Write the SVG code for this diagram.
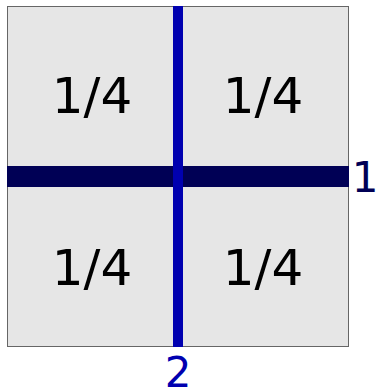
<svg xmlns="http://www.w3.org/2000/svg" width="377" height="391" viewBox="0 0 377 391">
<style>
.q{font-family:"DejaVu Sans",sans-serif;font-size:50px;fill:#000;text-anchor:middle}
.lbl{font-family:"DejaVu Sans",sans-serif;font-size:42px;text-anchor:middle}
</style>
<rect width="377" height="391" fill="#fff"/>
<g id="square">
<rect x="7.5" y="6.5" width="341" height="340" fill="#e6e6e6" stroke="#666" stroke-width="1"/>
<text class="q" x="92" y="113">1/4</text>
<text class="q" x="263" y="113">1/4</text>
<text class="q" x="92" y="285">1/4</text>
<text class="q" x="263" y="285">1/4</text>
</g>
<g id="lines">
<rect x="7" y="166" width="342" height="21" fill="#000055"/>
<rect x="173" y="6" width="10" height="341" fill="#0000b0"/>
</g>
<g id="labels">
<text class="lbl" x="365" y="192" fill="#000055">1</text>
<text class="lbl" x="178" y="387" fill="#0000b0">2</text>
</g>
</svg>
